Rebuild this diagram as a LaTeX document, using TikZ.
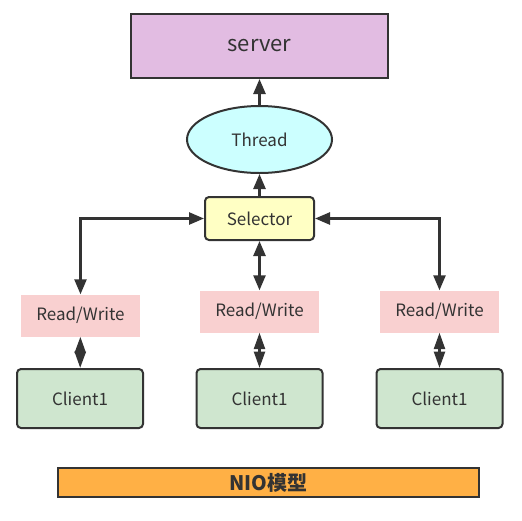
\documentclass[tikz,border=0pt]{standalone}
\usepackage{fontspec}
\setmainfont{Noto Sans CJK SC}
\usepackage{xcolor}
\usepackage{tikz}
\usetikzlibrary{arrows.meta,positioning,shapes.geometric}

\definecolor{lineclr}{HTML}{333333}
\definecolor{serverclr}{HTML}{E2BCE2}
\definecolor{threadclr}{HTML}{CCFFFF}
\definecolor{selclr}{HTML}{FFFFC4}
\definecolor{rwclr}{HTML}{F9D0D0}
\definecolor{clientclr}{HTML}{CFE6CF}
\definecolor{nioclr}{HTML}{FFB045}

\begin{document}
\begin{tikzpicture}[x=1pt,y=-1pt,on grid,>={Triangle[length=15pt,width=12pt]},
    every node/.style={text=lineclr,font=\fontsize{17}{20}\selectfont,inner sep=0pt},
    serverbox/.style={draw=lineclr,line width=2pt,fill=serverclr,minimum width=257pt,minimum height=64pt,font=\fontsize{22}{26}\selectfont},
    threadnode/.style={ellipse,draw=lineclr,line width=2pt,fill=threadclr,minimum width=145pt,minimum height=67pt},
    selbox/.style={draw=lineclr,line width=2pt,rounded corners=4pt,fill=selclr,minimum width=109pt,minimum height=43pt},
    rwbox/.style={fill=rwclr,minimum width=119pt,minimum height=42pt},
    clientbox/.style={draw=lineclr,line width=2pt,rounded corners=4pt,fill=clientclr,minimum width=126pt,minimum height=59pt},
    niobox/.style={draw=lineclr,line width=1.5pt,fill=nioclr,minimum width=421pt,minimum height=29pt,font=\fontsize{20}{24}\selectfont\bfseries},
    link/.style={draw=lineclr,line width=2.5pt},
    shortlink/.style={link,{Triangle[length=16.5pt,width=11pt]}-{Triangle[length=16.5pt,width=11pt]}}]
    \useasboundingbox (0,0) rectangle (522,520);
    \node[serverbox] (server) at (259.5,46) {server};
    \node[threadnode] (thread) [below=93.5pt of server] {Thread};
    \node[selbox] (sel) [below=79pt of thread] {Selector};
    \node[rwbox] (rw2) [below=93pt of sel] {Read/Write};
    \node[rwbox] (rw1) [left=179pt of rw2,yshift=-4pt] {Read/Write};
    \node[rwbox] (rw3) [right=180pt of rw2] {Read/Write};
    \node[clientbox] (c2) [below=87pt of rw2] {Client1};
    \node[clientbox] (c1) [left=179.5pt of c2] {Client1};
    \node[clientbox] (c3) [right=180pt of c2] {Client1};
    \node[niobox] (nio) at (268.5,482.5) {NIO模型};
    % selector side
    \draw[link,->] (thread) -- (server);
    \draw[link,->] (sel) -- (thread);
    \draw[link,<->] (sel) -- (rw2);
    \draw[link,<->] (sel.west) -| (rw1.north);
    \draw[link,<->] (sel.east) -| (rw3.north);
    % clients
    \draw[shortlink] (rw1) -- (c1);
    \draw[shortlink] (rw2) -- (c2);
    \draw[shortlink] (rw3) -- (c3);
\end{tikzpicture}
\end{document}
